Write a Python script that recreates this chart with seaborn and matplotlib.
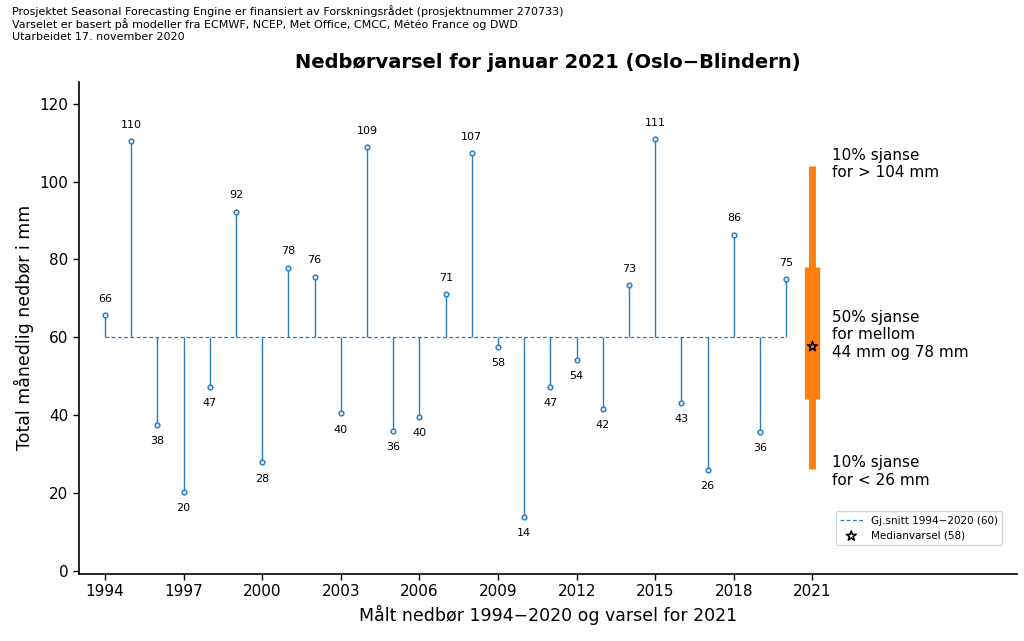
import numpy as np
import pandas as pd
import matplotlib
matplotlib.use("Agg")
import matplotlib.pyplot as plt
import seaborn as sns

# observed precipitation, January, Oslo-Blindern
years = list(range(1994, 2021))
precip = [65.8, 110.5, 37.5, 20.3, 47.3, 92.3, 27.8, 77.9, 75.6, 40.4,
          109.0, 36.0, 39.6, 71.0, 107.3, 57.6, 13.9, 47.3, 54.2, 41.6,
          73.3, 111.0, 43.2, 25.8, 86.4, 35.7, 75.0]
mean_precip = 60.0

# forecast for 2021
fc_year = 2021
fc_p10, fc_p25, fc_median, fc_p75, fc_p90 = 26, 44, 57.6, 78, 104

xticks = list(range(1994, 2022, 3))

sns.set_theme(style="ticks", rc={'text.color': 'black', 'axes.labelcolor': 'black',
                                 'xtick.color': 'black', 'ytick.color': 'black'})
plt.rcParams['font.family'] = ['DejaVu Sans']

df = pd.DataFrame({'year': years, 'precip': precip})

fig = plt.figure(figsize=(10.24, 6.41), dpi=100)
ax = fig.add_axes([0.077, 0.105, 0.916, 0.767])

blue = '#2b7bba'
ax.vlines(df['year'], mean_precip, df['precip'], color=blue, lw=1.0)
sns.scatterplot(data=df, x='year', y='precip', ax=ax, marker='o', s=12,
                facecolor='#dbe9f5', edgecolor=blue, linewidth=1.0, zorder=3)
ax.plot([years[0], years[-1]], [mean_precip, mean_precip], color=blue, lw=0.9,
        dashes=(3, 2), label='Gj.snitt 1994\u22122020 (60)', zorder=1)

for y, p in zip(years, precip):
    if p >= mean_precip:
        ax.annotate(f"{p:.0f}", (y, p), xytext=(0, 8), textcoords='offset points',
                    ha='center', va='bottom', fontsize=8)
    else:
        ax.annotate(f"{p:.0f}", (y, p), xytext=(0, -8), textcoords='offset points',
                    ha='center', va='top', fontsize=8)

orange = '#ff7f0e'
ax.vlines(fc_year, fc_p10, fc_p90, color=orange, lw=5, zorder=2)
ax.vlines(fc_year, fc_p25, fc_p75, color=orange, lw=11, zorder=2)
ax.scatter([fc_year], [fc_median], marker='*', s=55, facecolor='none',
           edgecolor='black', linewidth=1.1, zorder=4, label='Medianvarsel (58)')

tx = fc_year + 0.76
ax.text(tx, fc_p90 + 0.5, f"10% sjanse\nfor > {fc_p90} mm", fontsize=11, va='center', ha='left')
ax.text(tx, fc_median + 3, f"50% sjanse\nfor mellom\n{fc_p25} mm og {fc_p75} mm",
        fontsize=11, va='center', ha='left')
ax.text(tx, fc_p10 - 0.5, f"10% sjanse\nfor < {fc_p10} mm", fontsize=11, va='center', ha='left')

ax.set_xlim(1993, 2028.8)
ax.set_ylim(-0.8, 125.6)
ax.set_xticks(xticks)
ax.set_yticks(range(0, 121, 20))
ax.tick_params(labelsize=11, direction='out', length=4, width=1, colors='black')
for s in ['left', 'bottom']:
    ax.spines[s].set_color('black')
    ax.spines[s].set_linewidth(1.2)
sns.despine(ax=ax)

ax.set_xlabel("Målt nedbør 1994\u22122020 og varsel for 2021", fontsize=12.5)
ax.set_ylabel("Total månedlig nedbør i mm", fontsize=12.5)
ax.set_title("Nedbørvarsel for januar 2021 (Oslo\u2212Blindern)", fontsize=14,
             fontweight='bold', pad=10)

leg = ax.legend(loc='lower right', bbox_to_anchor=(0.99, 0.048), fontsize=7.5,
                frameon=True, handlelength=2.2)
leg.get_frame().set_edgecolor('#cccccc')

fig.text(0.012, 0.992, "Prosjektet Seasonal Forecasting Engine er finansiert av Forskningsrådet (prosjektnummer 270733)\n"
         "Varselet er basert på modeller fra ECMWF, NCEP, Met Office, CMCC, Météo France og DWD\n"
         "Utarbeidet 17. november 2020", fontsize=8, va='top', ha='left', linespacing=1.15)

fig.savefig("out.png", dpi=100)
